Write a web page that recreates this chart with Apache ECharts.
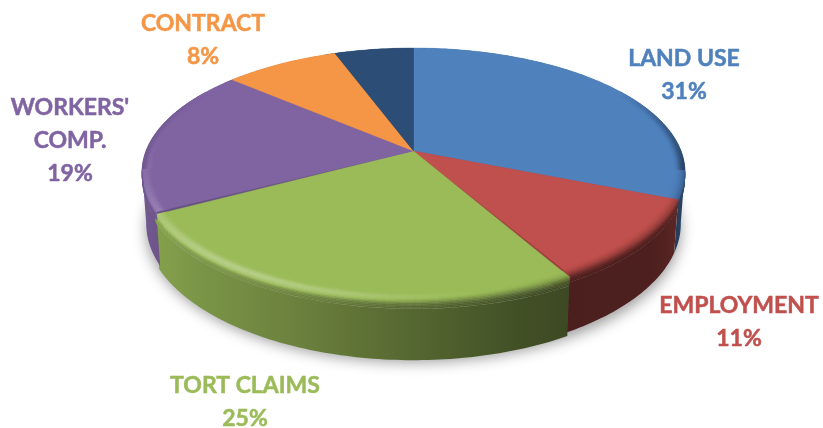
<!DOCTYPE html>
<html><head><meta charset="utf-8">
<style>html,body{margin:0;padding:0;background:#fff}#c{width:823px;height:428px}</style>
<script src="https://cdn.jsdelivr.net/npm/echarts@6/dist/echarts.min.js"></script>
</head><body><div id="c"></div>
<script>
const categories = ["LAND USE","EMPLOYMENT","TORT CLAIMS","WORKERS'\nCOMP.","CONTRACT",""];
const percents = [31,10.5,25.4,19,8,5.5];
const palette = ["#4f81bd","#c0504d","#9bbb59","#8064a2","#f59646","#2c4d75"];
const labelCenters = [[684,75],[739,322],[245,402],[70,141],[203,40],null];
const pulledOut = [0,0,0.02,0,0,0];

// pie geometry: a disc seen in perspective
const CX=413.5, CY=151, A=267.5, B=120.5, K=0.17, D=50;
const BEVEL_R=0.04, BEVEL_H=0.15;
const FRONT0=99, FRONT1=261;
const total = percents.reduce((a,b)=>a+b,0);
const starts=[]; { let c=0; percents.forEach(v=>{starts.push(c/total*360); c+=v;}); }
const rad=d=>d*Math.PI/180;
function P(deg,r,h,i){
  const pull=i==null?0:pulledOut[i];
  const u=Math.sin(rad(deg))*r, v=-Math.cos(rad(deg))*r+pull*r, w=1-K*v;
  const s=1-0.015*h;
  return [CX+A*u/w*s, CY+(B*v+D*h)/w];
}
function rgb(c){return [1,3,5].map(i=>parseInt(c.substr(i,2),16));}
function shade(c,f){
  const a=rgb(c);
  const o=f<=1?a.map(x=>x*f):a.map(x=>x+(255-x)*(f-1));
  return 'rgb('+o.map(x=>Math.round(x)).join(',')+')';
}
const wallStops=[[-1,.88],[-.9,.82],[-.4,.68],[0,.55],[.5,.39],[.92,.40],[1,.5]];
function wallF(x){
  const p=(x-CX)/A;
  for(let i=1;i<wallStops.length;i++){
    if(p<=wallStops[i][0]){
      const a=wallStops[i-1],b=wallStops[i],t=(p-a[0])/(b[0]-a[0]);
      return a[1]+(b[1]-a[1])*Math.max(0,t);
    }
  }
  return wallStops[wallStops.length-1][1];
}
function range(i){return [starts[i], starts[i]+percents[i]/total*360];}
function wallItem(params){
  const i=params.dataIndex; const [a0,b0]=range(i);
  const a=Math.max(a0,FRONT0), b=Math.min(b0,FRONT1);
  if(b<=a) return {type:'group',children:[]};
  const up=[],dn=[],n=Math.ceil(b-a);
  for(let j=0;j<=n;j++){const d=a+(b-a)*j/n;up.push(P(d,1,BEVEL_H,i));dn.push(P(d,1,1,i));}
  const pts=up.concat(dn.reverse());
  const xs=pts.map(p=>p[0]); const x0=Math.min(...xs),x1=Math.max(...xs);
  const stops=[];for(let k=0;k<=8;k++){stops.push({offset:k/8,color:shade(palette[i],wallF(x0+(x1-x0)*k/8))});}
  return {type:'polygon',shape:{points:pts},style:{fill:{type:'linear',x:x0,y:0,x2:x1,y2:0,global:true,colorStops:stops}}};
}
// each slice continues a little under its neighbours so a pulled-out slice leaves no gap
function underItem(params){
  const i=params.dataIndex; if(pulledOut[i]) return {type:'group',children:[]};
  const [a,b]=range(i); const pts=[P(0,0,0,i)]; const aa=a-3,bb=b+3,n=Math.ceil(bb-aa);
  for(let j=0;j<=n;j++){
    const d=aa+(bb-aa)*j/n;
    pts.push(P(d,1,(d>=FRONT0&&d<=FRONT1)?BEVEL_H:0,i));
  }
  return {type:'polygon',shape:{points:pts},style:{fill:shade(palette[i],.8)}};
}
function topItem(params){
  const i=params.dataIndex; const [a,b]=range(i); const c=palette[i]; const kids=[];
  const pts=[P(0,0,0,i)]; const n=Math.ceil(b-a);
  for(let j=0;j<=n;j++){pts.push(P(a+(b-a)*j/n,1,0,i));}
  kids.push({type:'polygon',shape:{points:pts},style:{fill:c,stroke:c,lineWidth:.4}});
  // rounded rim, shaded segment by segment
  const va=Math.max(a,58), vb=Math.min(b,302);
  if(vb>va){
    const ROWS=12, m=Math.max(1,Math.ceil((vb-va)/1.5));
    for(let j=0;j<m;j++){
      const d0=va+(vb-va)*j/m,d1=va+(vb-va)*(j+1)/m,dm=(d0+d1)/2;
      const front=dm>=FRONT0&&dm<=FRONT1;
      const rim=(deg,t)=>front
        ?(t<.5?P(deg,1-(.5-t)*2*BEVEL_R,0,i):P(deg,1,(t-.5)*2*BEVEL_H,i))
        :P(deg,1-(1-t)*BEVEL_R,0,i);
      const fade=Math.min(1,Math.max(0,(dm-58)/40))*Math.min(1,Math.max(0,(302-dm)/40));
      const hl=(0.36*Math.exp(-Math.pow((dm-212)/42,2))+0.02)*fade;
      const wf=wallF(P(dm,1,0,i)[0]);
      for(let r=0;r<ROWS;r++){
        const t0=r/ROWS,t1=(r+1)/ROWS,t=(t0+t1)/2;
        const s=t*t*(3-2*t);
        const f=1+(wf-1)*s*fade;
        const w=Math.sin(Math.PI*Math.min(1,t/.85));
        const col=shade(c,f+hl*w*w);
        kids.push({type:'polygon',shape:{points:[rim(d0,t0),rim(d1,t0),rim(d1,t1),rim(d0,t1)]},
          style:{fill:col,stroke:col,lineWidth:.5}});
      }
    }
  }
  return {type:'group',children:kids};
}
function shadowItem(){
  const pts=[];
  for(let d=0;d<360;d+=2){pts.push(P(d,1,1));}
  return {type:'polygon',shape:{points:pts},style:{fill:'#ffffff',shadowBlur:14,shadowColor:'rgba(0,0,0,0.38)',shadowOffsetY:6}};
}
const seriesData=categories.map((n,i)=>({name:n.replace('\n',' '),value:percents[i]}));
const labels=[];
categories.forEach((n,i)=>{
  if(!n) return;
  labels.push({type:'text',z:50,style:{text:n+'\n'+Math.round(percents[i])+'%',x:labelCenters[i][0],y:labelCenters[i][1],
    align:'center',verticalAlign:'middle',font:'bold 23px Lato',lineHeight:33,fill:palette[i],stroke:palette[i],lineWidth:.5}});
});
const chart=echarts.init(document.getElementById('c'),null,{renderer:'canvas'});
chart.setOption({
  animation:false,backgroundColor:'#fff',
  graphic:labels,
  series:[
    {type:'custom',coordinateSystem:'none',silent:true,z:1,data:[1],renderItem:shadowItem},
    {type:'custom',coordinateSystem:'none',silent:true,z:2,data:seriesData,renderItem:wallItem},
    {type:'custom',coordinateSystem:'none',silent:true,z:3,data:seriesData,renderItem:underItem},
    {type:'custom',coordinateSystem:'none',silent:true,z:4,data:seriesData,renderItem:topItem}
  ]
});
</script></body></html>
